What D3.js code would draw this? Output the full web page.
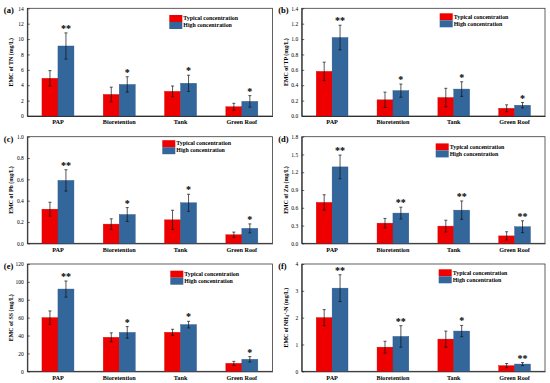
<!DOCTYPE html>
<html><head><meta charset="utf-8">
<script src="https://cdn.jsdelivr.net/npm/d3@7"></script>
<style>
html,body{margin:0;padding:0;background:#fff;}
svg{display:block;}
text{font-family:"Liberation Serif","Times New Roman",serif;fill:#000;}
</style></head>
<body>
<svg id="chart" width="550" height="383"></svg>
<script>
// ---------- data ----------
const categories = ["PAP", "Bioretention", "Tank", "Green Roof"];
const seriesNames = ["Typical concentration", "High concentration"];

const tnTypical = [4.9, 2.8, 3.2, 1.2];
const tnTypicalErr = [1.0, 0.95, 0.7, 0.45];
const tnHigh = [9.1, 4.1, 4.25, 1.9];
const tnHighErr = [1.7, 1.0, 1.05, 0.75];
const tnStars = ["**", "*", "*", "*"];
const tnTicks = [0, 2, 4, 6, 8, 10, 12, 14];

const tpTypical = [0.58, 0.21, 0.24, 0.10];
const tpTypicalErr = [0.12, 0.10, 0.12, 0.045];
const tpHigh = [1.02, 0.33, 0.35, 0.14];
const tpHighErr = [0.16, 0.085, 0.095, 0.035];
const tpStars = ["**", "*", "*", "*"];
const tpTicks = [0, 0.2, 0.4, 0.6, 0.8, 1.0, 1.2, 1.4];

const pbTypical = [0.32, 0.18, 0.22, 0.08];
const pbTypicalErr = [0.065, 0.05, 0.09, 0.025];
const pbHigh = [0.59, 0.27, 0.38, 0.14];
const pbHighErr = [0.10, 0.065, 0.08, 0.042];
const pbStars = ["**", "*", "*", "*"];
const pbTicks = [0, 0.2, 0.4, 0.6, 0.8, 1.0];

const znTypical = [0.69, 0.34, 0.29, 0.125];
const znTypicalErr = [0.13, 0.08, 0.10, 0.07];
const znHigh = [1.29, 0.51, 0.56, 0.28];
const znHighErr = [0.20, 0.10, 0.155, 0.10];
const znStars = ["**", "**", "**", "**"];
const znTicks = [0, 0.3, 0.6, 0.9, 1.2, 1.5, 1.8];

const ssTypical = [60, 38, 43.6, 8.9];
const ssTypicalErr = [7.5, 5, 3.4, 2.2];
const ssHigh = [92, 43.5, 52.2, 13.4];
const ssHighErr = [9, 6.5, 3.7, 3];
const ssStars = ["**", "*", "*", "*"];
const ssTicks = [0, 20, 40, 60, 80, 100, 120];

const nhTypical = [2.0, 0.9, 1.2, 0.21];
const nhTypicalErr = [0.3, 0.22, 0.3, 0.08];
const nhHigh = [3.1, 1.3, 1.5, 0.27];
const nhHighErr = [0.5, 0.4, 0.21, 0.055];
const nhStars = ["**", "**", "*", "**"];
const nhTicks = [0, 1, 2, 3, 4];

// ---------- layout ----------
const colors = ["#ee0000", "#33669b"];
const cols = [[27.3, 272.5], [301.7, 545]];
const rows = [[8.3, 116], [136.7, 243.3], [264, 371.3]];

const panels = [
  {label:"(a)", title:["EMC of TN (mg/L)"], typ:tnTypical, typErr:tnTypicalErr, high:tnHigh, highErr:tnHighErr, stars:tnStars, ticks:tnTicks, fmt:d3.format("d"), col:0, row:0, legDx:142, legDy:6.7},
  {label:"(b)", title:["EMC of TP (mg/L)"], typ:tpTypical, typErr:tpTypicalErr, high:tpHigh, highErr:tpHighErr, stars:tpStars, ticks:tpTicks, fmt:d3.format(".1f"), col:1, row:0, legDx:138, legDy:5},
  {label:"(c)", title:["EMC of Pb (mg/L)"], typ:pbTypical, typErr:pbTypicalErr, high:pbHigh, highErr:pbHighErr, stars:pbStars, ticks:pbTicks, fmt:d3.format(".1f"), col:0, row:1, legDx:135, legDy:3.5},
  {label:"(d)", title:["EMC of Zn (mg/L)"], typ:znTypical, typErr:znTypicalErr, high:znHigh, highErr:znHighErr, stars:znStars, ticks:znTicks, fmt:d3.format(".1f"), col:1, row:1, legDx:134, legDy:6.7},
  {label:"(e)", title:["EMC of SS (mg/L)"], typ:ssTypical, typErr:ssTypicalErr, high:ssHigh, highErr:ssHighErr, stars:ssStars, ticks:ssTicks, fmt:d3.format("d"), col:0, row:2, legDx:143, legDy:6.7},
  {label:"(f)", title:null, typ:nhTypical, typErr:nhTypicalErr, high:nhHigh, highErr:nhHighErr, stars:nhStars, ticks:nhTicks, fmt:d3.format("d"), col:1, row:2, legDx:137, legDy:5.3}
];

const svg = d3.select("#chart");

panels.forEach(p => {
  const [x0, x1] = cols[p.col];
  const [y0, y1] = rows[p.row];
  const g = svg.append("g");

  const x = d3.scaleBand().domain(categories).range([x0, x1]).paddingInner(0.478).paddingOuter(0.239);
  const xs = d3.scaleBand().domain([0, 1]).range([0, x.bandwidth()]);
  const y = d3.scaleLinear().domain([p.ticks[0], p.ticks[p.ticks.length - 1]]).range([y1, y0]);

  // frame
  g.append("rect").attr("x", x0).attr("y", y0).attr("width", x1 - x0).attr("height", y1 - y0)
    .attr("fill", "none").attr("stroke", "#3a3a3a").attr("stroke-width", 0.8);

  // y axis (ticks inward)
  const yAxis = d3.axisLeft(y).tickValues(p.ticks).tickFormat(p.fmt).tickSizeInner(-2.5).tickSizeOuter(0).tickPadding(3.5);
  const ya = g.append("g").attr("transform", `translate(${x0},0)`).call(yAxis);
  ya.select(".domain").attr("stroke", "#222").attr("stroke-width", 0.9);
  ya.selectAll(".tick line").attr("stroke", "#222").attr("stroke-width", 0.7);
  ya.selectAll(".tick text").attr("font-family", "Liberation Serif, serif").attr("font-size", 5.5).attr("fill", "#000");

  // x axis
  const xAxis = d3.axisBottom(x).tickSize(0).tickPadding(4);
  const xa = g.append("g").attr("transform", `translate(0,${y1})`).call(xAxis);
  xa.select(".domain").attr("stroke", "#222").attr("stroke-width", 0.9);
  xa.selectAll(".tick text").attr("font-family", "Liberation Serif, serif").attr("font-size", 6.2).attr("font-weight", "bold").attr("fill", "#000");

  // bars
  const rowsData = categories.map((c, i) => ({c, vals:[p.typ[i], p.high[i]], errs:[p.typErr[i], p.highErr[i]], star:p.stars[i]}));
  const cg = g.selectAll(".cat").data(rowsData).join("g").attr("transform", d => `translate(${x(d.c)},0)`);
  [0, 1].forEach(s => {
    cg.append("rect")
      .attr("x", xs(s)).attr("width", xs.bandwidth())
      .attr("y", d => y(d.vals[s])).attr("height", d => y1 - y(d.vals[s]))
      .attr("fill", colors[s]).attr("stroke", s === 0 ? "#d00000" : "#2a5585").attr("stroke-width", 0.4);
    const cx = xs(s) + xs.bandwidth() / 2;
    cg.append("line").attr("x1", cx).attr("x2", cx)
      .attr("y1", d => y(d.vals[s] + d.errs[s])).attr("y2", d => y(d.vals[s] - d.errs[s]))
      .attr("stroke", "#111").attr("stroke-width", 0.7);
    ["+", "-"].forEach(sign => {
      cg.append("line").attr("x1", cx - 1.5).attr("x2", cx + 1.5)
        .attr("y1", d => y(sign === "+" ? d.vals[s] + d.errs[s] : d.vals[s] - d.errs[s]))
        .attr("y2", d => y(sign === "+" ? d.vals[s] + d.errs[s] : d.vals[s] - d.errs[s]))
        .attr("stroke", "#111").attr("stroke-width", 0.7);
    });
  });
  // significance stars
  cg.append("text")
    .attr("x", xs(1) + xs.bandwidth() / 2)
    .attr("y", d => y(d.vals[1] + d.errs[1]) - 1)
    .attr("text-anchor", "middle").attr("font-size", 10).attr("font-weight", "bold")
    .text(d => d.star);

  // legend
  const lg = g.append("g").attr("transform", `translate(${x0 + p.legDx},${y0 + p.legDy})`);
  seriesNames.forEach((n, i) => {
    lg.append("rect").attr("x", 0).attr("y", i * 7).attr("width", 13).attr("height", 7).attr("fill", colors[i]);
    lg.append("text").attr("x", 14).attr("y", i * 7 + 5.3).attr("font-size", 5.9).attr("font-weight", "bold").text(n);
  });

  // panel label
  g.append("text").attr("x", x0 - 23.5).attr("y", y0 + 5).attr("font-size", 8.5).attr("font-weight", "bold").text(p.label);

  // y title
  const ty = g.append("text").attr("transform", `translate(${x0 - 14},${(y0 + y1) / 2}) rotate(-90)`)
    .attr("text-anchor", "middle").attr("font-size", 5.9).attr("font-weight", "bold");
  if (p.title) {
    ty.text(p.title[0]);
  } else {
    ty.append("tspan").text("EMC of NH");
    ty.append("tspan").attr("font-size", 4).attr("dy", 1.5).text("4");
    ty.append("tspan").attr("font-size", 4).attr("dy", -3.5).text("+");
    ty.append("tspan").attr("dy", 2).text("-N (mg/L)");
  }
});
</script>
</body></html>
